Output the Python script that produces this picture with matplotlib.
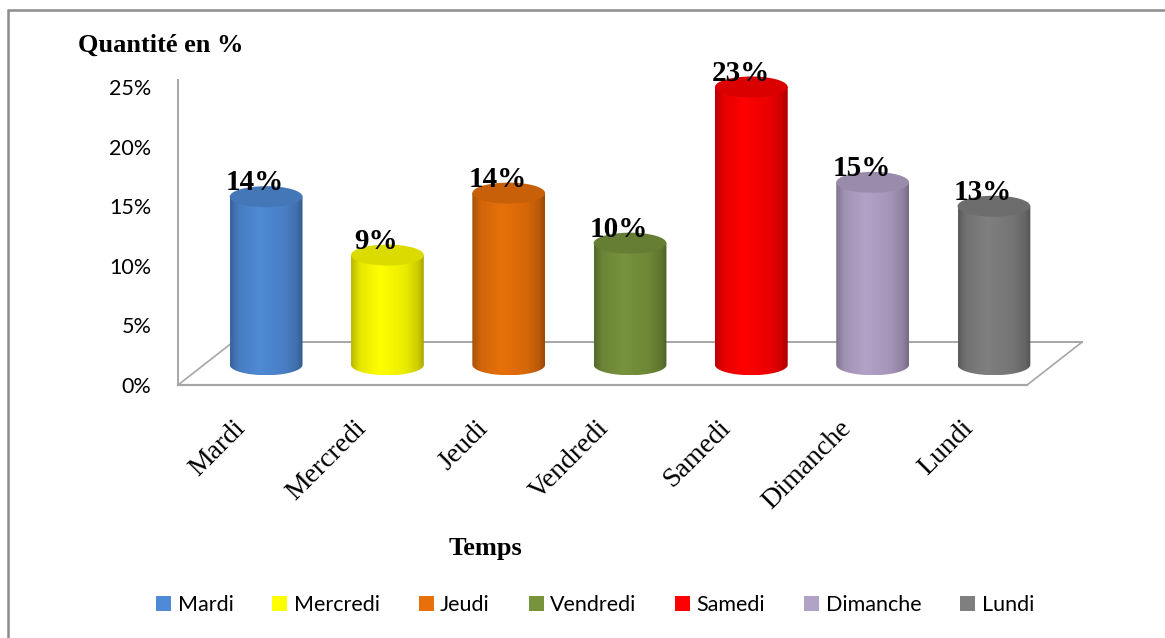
import numpy as np
import matplotlib
matplotlib.use("Agg")
import matplotlib.pyplot as plt
from matplotlib.patches import Ellipse, Polygon, Rectangle, Patch
from matplotlib.colors import to_rgb

# ---- data ----
days = ["Mardi", "Mercredi", "Jeudi", "Vendredi", "Samedi", "Dimanche", "Lundi"]
values = [14.1, 9.2, 14.4, 10.2, 23.3, 15.3, 13.3]
colors = ["#4F8AD6", "#FFFF00", "#E8700A", "#77933C", "#FF0000", "#B3A2C7", "#7F7F7F"]
yticks = [0, 5, 10, 15, 20, 25]

W, H = 1165, 638
fig = plt.figure(figsize=(W / 100, H / 100), dpi=100)

# axes: x in category units (121.3 px each), y in percent (11.92 px each)
px_x, px_y = 121.3, 11.92
ax_left, ax_right = 178, 1100
y0_px = 385
ymax = 26.0
ax = fig.add_axes([ax_left / W, 1 - y0_px / H, (ax_right - ax_left) / W, ymax * px_y / H])
xmin = -0.5
xmax = xmin + (ax_right - ax_left) / px_x
ax.set_facecolor("none")

# floor parallelogram
depth_dx, depth_dy = 0.453, 3.6
n = len(days)
floor_col = "#A6A6A6"
ax.plot([xmin, xmin + n], [0, 0], color=floor_col, lw=1.6, clip_on=False, zorder=1)
ax.plot([xmin + depth_dx, xmin + n + depth_dx], [depth_dy, depth_dy], color=floor_col, lw=1.4, clip_on=False, zorder=1)
ax.plot([xmin, xmin + depth_dx], [0, depth_dy], color=floor_col, lw=1.2, clip_on=False, zorder=1)
ax.plot([xmin + n, xmin + n + depth_dx], [0, depth_dy], color=floor_col, lw=1.2, clip_on=False, zorder=1)

# cylinders
bw = 0.60
eh = 1.76  # ellipse full height in % units
bdx, bdy = depth_dx / 2, depth_dy / 2 - 0.1
tpts = [0, 0.12, 0.4, 0.75, 0.92, 1]
spts = [0.72, 0.9, 1.0, 0.92, 0.8, 0.66]
tt = np.linspace(0, 1, 200)
shade = np.interp(tt, tpts, spts)
for i, (v, c) in enumerate(zip(values, colors)):
    xc = i + bdx
    yb = bdy
    yt = bdy + v
    rgb = np.array(to_rgb(c))
    img = np.clip(shade[None, :, None] * rgb[None, None, :], 0, 1)
    th = np.linspace(np.pi, 2 * np.pi, 60)
    pts = [(xc - bw / 2, yt)] + [(xc + bw / 2 * np.cos(a), yb + eh / 2 * np.sin(a)) for a in th] + [(xc + bw / 2, yt)]
    clip = Polygon(pts, closed=True, facecolor="none", edgecolor="none", transform=ax.transData)
    ax.add_patch(clip)
    im = ax.imshow(img, extent=[xc - bw / 2, xc + bw / 2, yb - eh / 2, yt], aspect="auto",
                   zorder=3, interpolation="bilinear")
    im.set_clip_path(clip)
    top = Ellipse((xc, yt), bw, eh, facecolor=np.clip(rgb * 0.86, 0, 1), edgecolor="none", zorder=4)
    ax.add_patch(top)
    ax.text(xc - 0.09, yt + eh / 2 - 0.35, f"{round(v)}%", ha="center", va="baseline",
            fontsize=21, fontweight="bold", family="Liberation Serif", zorder=5)

ax.set_xlim(xmin, xmax)
ax.set_ylim(0, ymax)

# axes styling
for s in ["top", "right", "bottom"]:
    ax.spines[s].set_visible(False)
ax.spines["left"].set_color(floor_col)
ax.spines["left"].set_linewidth(1.4)
ax.spines["left"].set_bounds(0, 25.6)
ax.set_yticks(yticks)
ax.set_yticklabels([f"{t}%" for t in yticks], family="Lato", fontsize=15.5)
ax.tick_params(axis="y", length=0, pad=19)

ax.set_xticks(np.arange(n) - 0.05)
ax.set_xticklabels(days, rotation=45, ha="right", va="top", rotation_mode="anchor",
                   family="Liberation Serif", fontsize=20)
ax.tick_params(axis="x", length=0, pad=22)

# titles
fig.text(78 / W, 1 - 45 / H, "Quantité en %", family="Liberation Serif", fontweight="bold",
         fontsize=19, ha="left", va="center")
fig.text(485 / W, 1 - 548 / H, "Temps", family="Liberation Serif", fontweight="bold",
         fontsize=19, ha="center", va="center")

# legend
handles = [Patch(facecolor=c, edgecolor="none") for c in colors]
fig.legend(handles, days, loc="center", bbox_to_anchor=(595 / W, 1 - 605 / H), ncol=n,
           frameon=False, prop={"family": "Lato", "size": 15.5}, handlelength=0.7,
           handleheight=0.7, handletextpad=0.3, columnspacing=1.8)

# outer border (right and bottom sides fall outside the picture)
fig.patches.append(Rectangle((8 / W, -0.05), 1.0, 1.05 - 10.5 / H, transform=fig.transFigure,
                             facecolor="none", edgecolor="#8C8C8C", lw=1.8, clip_on=False))

fig.savefig("out.png", dpi=100)
